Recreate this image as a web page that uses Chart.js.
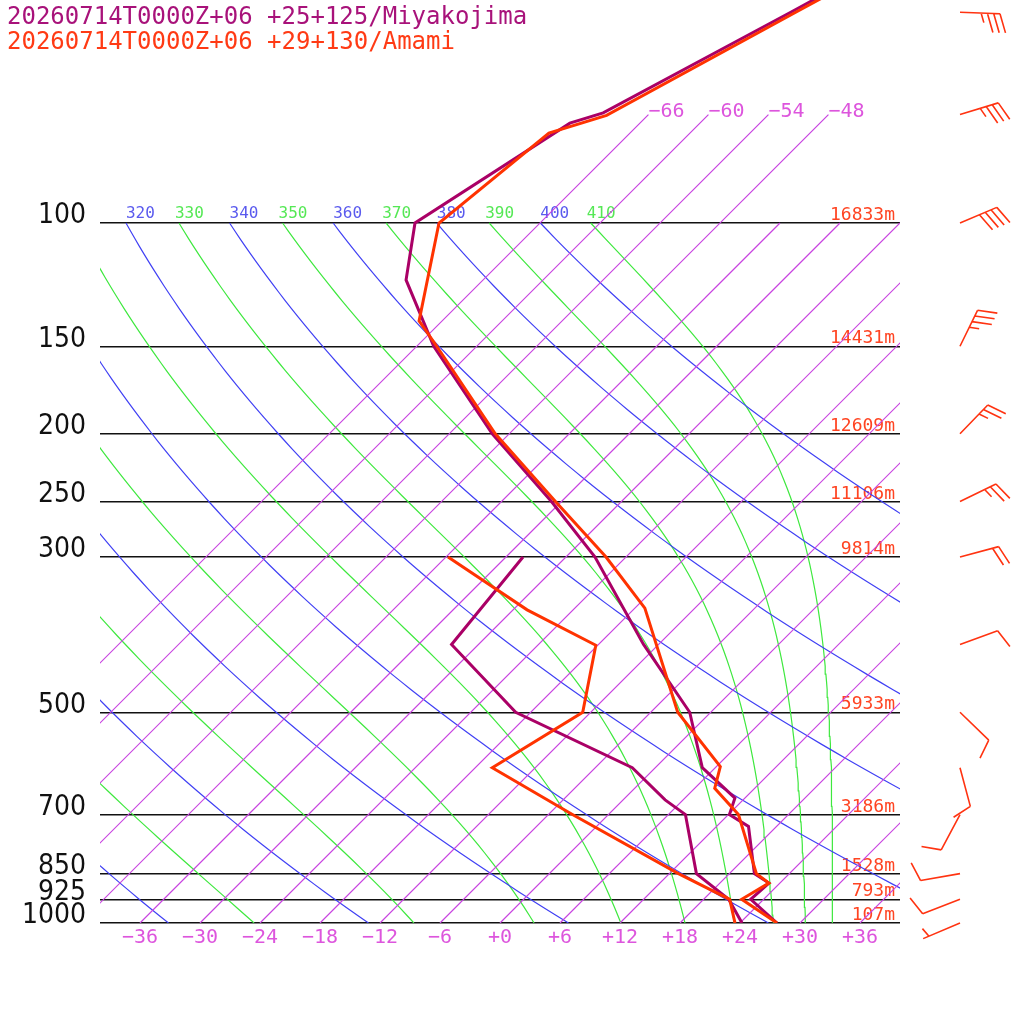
<!DOCTYPE html>
<html><head><meta charset="utf-8">
<script src="https://cdn.jsdelivr.net/npm/chart.js@4.4.1/dist/chart.umd.min.js"></script>
<style>
html,body{margin:0;padding:0;background:#fff;}
#wrap{position:relative;width:1024px;height:1024px;overflow:hidden;}
#c{position:absolute;left:0;top:0;}
.title{position:absolute;left:7px;font-family:'DejaVu Sans Mono',monospace;font-size:24px;line-height:25px;white-space:pre;}
</style></head><body>
<div id="wrap">
<canvas id="c" width="1024" height="1024"></canvas>
<div class="title" style="top:4px;color:#a8127a">20260714T0000Z+06 +25+125/Miyakojima</div>
<div class="title" style="top:29px;color:#ff3a14">20260714T0000Z+06 +29+130/Amami</div>
</div>
<script>
// ---------------- data ----------------
const pressureTicks = [100,150,200,250,300,500,700,850,925,1000];
const heightsAmami  = [16833,14431,12609,11106,9814,5933,3186,1528,793,107];
const tempTicks = [-36,-30,-24,-18,-12,-6,0,6,12,18,24,30,36];

// Miyakojima (purple) temperature profile
const miyaTempP = [30,50,69.6,72,100,120.6,150,200,250,300,400,500,600,663,700,728,850,877,925,1000];
const miyaTempT = [-49,-62.0,-70.7,-73.0,-78.5,-73.7,-64.3,-49.7,-37.0,-27.1,-13.5,-2.1,4.7,11.0,12.1,15.2,20.5,22.9,22.7,27.7];
// Miyakojima dewpoint
const miyaDewP = [300,400,500,600,667,700,850,925,1000];
const miyaDewT = [-34.3,-32.7,-19.5,-2.3,4.2,7.7,14.7,20.5,24.2];

// Amami (red) temperature profile
const amamiTempP = [30,50,70.2,74.4,100,138,150,200,250,300,355,500,598,642,700,850,877,925,1000];
const amamiTempT = [-48.5,-61.5,-70.1,-74.1,-76.1,-68.3,-64.0,-49.4,-36.6,-26.0,-17.0,-3.3,6.4,8.0,13.0,20.7,22.9,21.8,27.7];
// Amami dewpoint
const amamiDewP = [300,357,401,500,600,700,850,925,1000];
const amamiDewT = [-41.8,-28.6,-18.2,-12.8,-16.3,-3.6,12.9,20.6,23.5];

// Amami winds
const windP   = [50,70,100,150,200,250,300,400,500,600,700,850,925,1000];
const windDir = [92,73,67,26,44,64,75,70,134,165,208,260,249,247];
const windSpd = [35,35,40,35,25,25,20,10,10,10,10,10,10,5];

// background reference lines
const isotherms = [-66,-60,-54,-48,-42,-36,-30,-24,-18,-12,-6,0,6,12,18,24,30,36];
const isoTopLabels = [-66,-60,-54,-48];
const dryThetas = [240,260,280,300,320,340,360,380,400];
const moistThetaE = [250,270,290,310,330,350,370,390,410];

// ---------------- helpers ----------------
const SKEW = 70;      // skew in degC per decade of pressure
const KAPPA = 0.2857;
const skew = (T,p) => T + SKEW*Math.log10(1000/p);
const pTop = 1000*Math.pow(10,-923/700);
const curveP = [];
for (let i=0;i<=90;i++) curveP.push(1000*Math.pow(10,-i/90));

function esat(T){ const c=T-273.15; return 6.112*Math.exp(17.67*c/(c+243.5)); }
function thetaESat(T,p){
  const es=esat(T); if (es>p*0.3) return 1e9;
  const r=0.622*es/(p-es)*1000;
  return T*Math.pow(1000/p,0.2854*(1-0.00028*r))*Math.exp((3.376/T-0.00254)*r*(1+0.00081*r));
}
function moistT(the,p){
  let lo=80,hi=340;
  for(let i=0;i<60;i++){ const m=(lo+hi)/2; if(thetaESat(m,p)>the) hi=m; else lo=m; }
  return (lo+hi)/2-273.15;
}
const dryT = (th,p) => th*Math.pow(p/1000,KAPPA)-273.15;

const COL_ISO='#c844e0', COL_ISO_LBL='#dd55dd';
const COL_DRY='#4040f4', COL_DRY_LBL='#5a5aee';
const COL_WET='#3ee83e', COL_WET_LBL='#55e855';
const COL_RED='#ff3300', COL_PUR='#aa0066', COL_HGT='#ff4422';

function bg(data,color){
  return {data, borderColor:color, borderWidth:1.2, pointRadius:0, showLine:true, fill:false, tension:0, order:10};
}
function prof(ps,ts,color,order){
  return {data: ps.map((p,i)=>({x:skew(ts[i],p), y:p})), borderColor:color, borderWidth:3,
    pointRadius:0, showLine:true, fill:false, tension:0, order, borderJoinStyle:'miter'};
}

const datasets = [];
isotherms.forEach(T=>{
  const pEnd = isoTopLabels.includes(T) ? 70 : 100;
  datasets.push(bg([{x:skew(T,1000),y:1000},{x:skew(T,pEnd),y:pEnd}], COL_ISO));
});
dryThetas.forEach(th=>datasets.push(bg(curveP.map(p=>({x:skew(dryT(th,p),p),y:p})), COL_DRY)));
moistThetaE.forEach(te=>datasets.push(bg(curveP.map(p=>({x:skew(moistT(te,p),p),y:p})), COL_WET)));
datasets.push(prof(miyaTempP,miyaTempT,COL_PUR,3));
datasets.push(prof(miyaDewP,miyaDewT,COL_PUR,2));
datasets.push(prof(amamiTempP,amamiTempT,COL_RED,1));
datasets.push(prof(amamiDewP,amamiDewT,COL_RED,0));

function drawBarb(ctx,x0,y0,dir,spd,color){
  const rad=dir*Math.PI/180, ux=Math.sin(rad), uy=-Math.cos(rad);
  const L=40, sp=6.3, F=20, a=72*Math.PI/180;
  const ex=x0+ux*L, ey=y0+uy*L;
  const fx=ux*Math.cos(a)-uy*Math.sin(a), fy=ux*Math.sin(a)+uy*Math.cos(a);
  ctx.strokeStyle=color; ctx.lineWidth=1.6; ctx.lineCap='butt';
  ctx.beginPath(); ctx.moveTo(x0,y0); ctx.lineTo(ex,ey);
  const full=Math.floor(spd/10), half=(spd%10)>=5?1:0;
  let pos=(full===0&&half)?1:0;
  for(let i=0;i<full;i++){ const bx=ex-ux*sp*pos, by=ey-uy*sp*pos; ctx.moveTo(bx,by); ctx.lineTo(bx+fx*F,by+fy*F); pos++; }
  if(half){ const bx=ex-ux*sp*pos, by=ey-uy*sp*pos; ctx.moveTo(bx,by); ctx.lineTo(bx+fx*F/2,by+fy*F/2); }
  ctx.stroke();
}

const overlay = {
  id:'overlay',
  beforeDatasetsDraw(chart){
    const {ctx, chartArea:a, scales:{x,y}} = chart;
    ctx.save();
    ctx.beginPath(); ctx.rect(a.left,a.top,a.right-a.left,a.bottom-a.top); ctx.clip();
    const y100=y.getPixelForValue(100);
    ctx.font='16px "DejaVu Sans Mono", monospace'; ctx.textAlign='left'; ctx.textBaseline='alphabetic';
    dryThetas.forEach(th=>{ ctx.fillStyle=COL_DRY_LBL; ctx.fillText(String(th), x.getPixelForValue(skew(dryT(th,100),100)), y100-5); });
    moistThetaE.forEach(te=>{ ctx.fillStyle=COL_WET_LBL; ctx.fillText(String(te), x.getPixelForValue(skew(moistT(te,100),100))-4, y100-5); });
    ctx.restore();
    ctx.save();
    ctx.font='18px "DejaVu Sans Mono", monospace'; ctx.textAlign='right'; ctx.fillStyle=COL_HGT;
    pressureTicks.forEach((p,i)=>ctx.fillText(heightsAmami[i]+'m', a.right-5, y.getPixelForValue(p)-3));
    ctx.font='20px "DejaVu Sans Mono", monospace'; ctx.textAlign='left'; ctx.fillStyle=COL_ISO_LBL;
    isoTopLabels.forEach(T=>ctx.fillText('\u2212'+Math.abs(T), x.getPixelForValue(skew(T,70)), y.getPixelForValue(70)+2));
    ctx.restore();
  },
  afterDatasetsDraw(chart){
    const {ctx, chartArea:a, scales:{y}} = chart;
    ctx.save();
    windP.forEach((p,i)=>drawBarb(ctx, a.right+60, y.getPixelForValue(p), windDir[i], windSpd[i], '#ff3311'));
    ctx.restore();
  }
};

new Chart(document.getElementById('c'), {
  type:'scatter',
  data:{datasets},
  options:{
    responsive:false, animation:false, devicePixelRatio:1,
    layout:{padding:{left:0,right:124,top:0,bottom:0}},
    plugins:{legend:{display:false}, tooltip:{enabled:false}},
    elements:{line:{borderCapStyle:'butt'}},
    scales:{
      x:{type:'linear', min:-40, max:40,
        afterBuildTicks:s=>{ s.ticks=tempTicks.map(v=>({value:v})); },
        afterFit:s=>{ s.height=101; s.paddingLeft=0; s.paddingRight=0; },
        grid:{display:false, drawTicks:false}, border:{display:false},
        ticks:{autoSkip:false, maxRotation:0, padding:3, color:COL_ISO_LBL,
          font:{family:'"DejaVu Sans Mono", monospace', size:20},
          callback:v=> v>=0 ? '+'+v : '\u2212'+Math.abs(v)}
      },
      y:{type:'logarithmic', reverse:true, min:pTop, max:1000,
        afterBuildTicks:s=>{ s.ticks=pressureTicks.map(v=>({value:v})); },
        afterFit:s=>{ s.width=100; s.paddingTop=0; s.paddingBottom=0; },
        grid:{color:'#111', lineWidth:1.5, drawTicks:false}, border:{display:false},
        ticks:{autoSkip:false, padding:14, color:'#111',
          font:{family:'"DejaVu Sans Condensed", "Liberation Sans Narrow", sans-serif', size:28, lineHeight:0.5},
          callback:v=>[String(v),'']}
      }
    }
  },
  plugins:[overlay]
});
</script>
</body></html>
